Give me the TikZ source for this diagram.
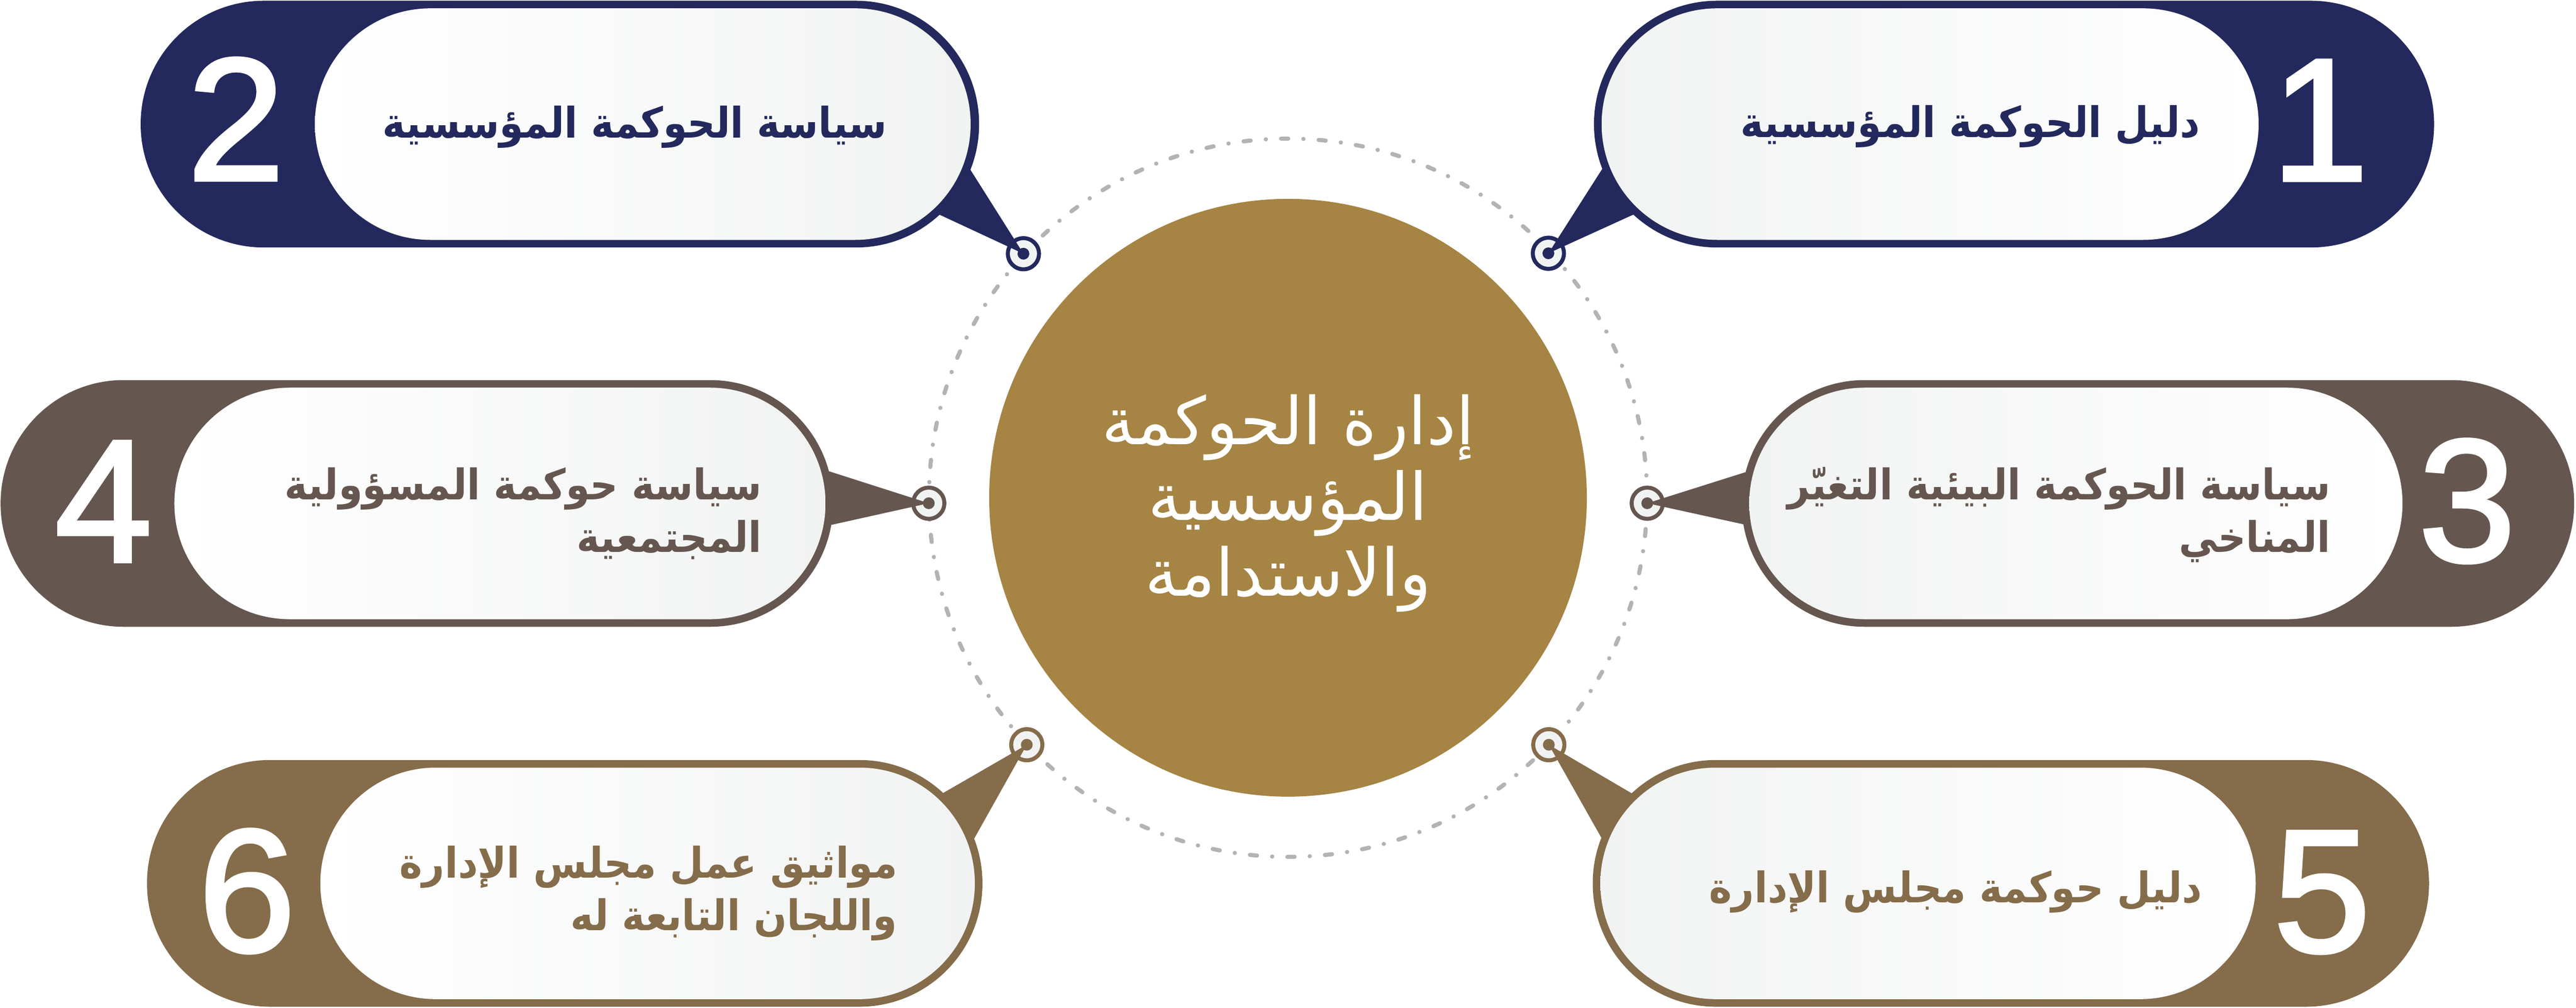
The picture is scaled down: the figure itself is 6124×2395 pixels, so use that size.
\documentclass[tikz,border=0pt]{standalone}
\usepackage{fontspec}
\usetikzlibrary{calc}
\newfontfamily\arabicfont[Script=Arabic]{DejaVu Sans}
\newfontfamily\arabicboldfont[Script=Arabic,FakeStretch=0.92]{DejaVu Sans Bold}
\newfontfamily\numfont[FakeBold=2]{Liberation Sans}
\TeXXeTstate=1
\definecolor{navy}{HTML}{23295C}
\definecolor{taupe}{HTML}{655750}
\definecolor{bronze}{HTML}{856C4A}
\definecolor{gold}{HTML}{A58444}
\definecolor{pale}{HTML}{F1F3F2}
\definecolor{dotgray}{HTML}{B3B3B3}
\tikzset{
  outerpill/.style={rectangle, rounded corners=2.925cm, minimum height=5.86cm, inner sep=0pt, outer sep=0pt},
  innerpill/.style={rectangle, rounded corners=2.745cm, minimum height=5.5cm, inner sep=0pt, outer sep=0pt},
  ring/.style={circle, minimum size=0.74cm, inner sep=0pt, line width=2.7pt, fill=pale},
  pindot/.style={circle, minimum size=0.28cm, inner sep=0pt},
  boxtext/.style={font=\arabicboldfont\fontsize{28.5}{35.3}\selectfont, inner sep=0pt, align=right, anchor=base east},
  hubtext/.style={font=\arabicfont\fontsize{44.5}{51.2}\selectfont, inner sep=0pt, align=center, text=white},
  numtext/.style={font=\numfont\fontsize{118}{118}\selectfont, text=white, inner sep=0pt},
  dotring/.style={draw=dotgray, line width=2.8pt, line cap=round, dash pattern=on 4.84pt off 10.235pt on 0.1pt off 10.235pt},
}
\begin{document}
\begin{tikzpicture}[x=0.01cm, y=-0.01cm]
\useasboundingbox (0,0) rectangle (6124,2395);
\fill[white] (0,0) rectangle (6124,2395);

% hub
\node[circle, fill=gold, minimum size=14.2cm, inner sep=0pt] (hub) at (3062,1183) {};
\draw[dotring] (hub.center) circle[radius=8.53cm];
\node[hubtext, anchor=base] (ht) at (3062,1417) {\beginR إدارة الحوكمة\endR\\\beginR المؤسسية\endR\\\beginR والاستدامة\endR};

% ---------- box 1 (top right, navy)
\node[ring, draw=navy] (c1) at (3681,602) {};
\coordinate (p1a) at (3808,403);
\coordinate (p1b) at (3883,510);
\fill[navy] (c1.center) -- ($(c1.center)!1.25!(p1a)$) -- ($(c1.center)!1.25!(p1b)$) -- cycle;
\node[outerpill, fill=navy, minimum width=19.96cm] (o1) at (4788,295) {};
\node[innerpill, shade, left color=pale, right color=white, minimum width=15.61cm] (b1) at (4588.5,295) {};
\node[pindot, fill=navy] (d1) at (c1.center) {};
\node[boxtext, text=navy] (t1) at (5231,326) {\beginR دليل الحوكمة المؤسسية\endR};
\node[numtext] (n1) at (5515,286) {1};

% ---------- box 2 (top left, navy)
\node[ring, draw=navy] (c2) at (2433,603) {};
\coordinate (p2a) at (2306,402);
\coordinate (p2b) at (2233,510);
\fill[navy] (c2.center) -- ($(c2.center)!1.25!(p2a)$) -- ($(c2.center)!1.25!(p2b)$) -- cycle;
\node[outerpill, fill=navy, minimum width=19.92cm] (o2) at (1331,295) {};
\node[innerpill, shade, left color=white, right color=pale, minimum width=15.58cm] (b2) at (1528,295) {};
\node[pindot, fill=navy] (d2) at (c2.center) {};
\node[boxtext, text=navy] (t2) at (2110,328) {\beginR سياسة الحوكمة المؤسسية\endR};
\node[numtext] (n2) at (561,283) {2};

% ---------- box 3 (middle right, taupe)
\node[ring, draw=taupe] (c3) at (3916,1196) {};
\coordinate (p3a) at (4144,1124);
\coordinate (p3b) at (4144,1246);
\fill[taupe] (c3.center) -- ($(c3.center)!1.25!(p3a)$) -- ($(c3.center)!1.25!(p3b)$) -- cycle;
\node[outerpill, fill=taupe, minimum width=19.78cm] (o3) at (5130,1196.5) {};
\node[innerpill, shade, left color=pale, right color=white, minimum width=15.52cm] (b3) at (4935,1196.5) {};
\node[pindot, fill=taupe] (d3) at (c3.center) {};
\node[boxtext, text=taupe] (t3) at (5541,1312) {\beginR سياسة الحوكمة البيئية التغيّر\endR\\\beginR المناخي\endR};
\node[numtext] (n3) at (5865,1191) {3};

% ---------- box 4 (middle left, taupe)
\node[ring, draw=taupe] (c4) at (2208,1196) {};
\coordinate (p4a) at (1980,1123);
\coordinate (p4b) at (1983,1246);
\fill[taupe] (c4.center) -- ($(c4.center)!1.25!(p4a)$) -- ($(c4.center)!1.25!(p4b)$) -- cycle;
\node[outerpill, fill=taupe, minimum width=19.78cm] (o4) at (991,1196.5) {};
\node[innerpill, shade, left color=white, right color=pale, minimum width=15.47cm] (b4) at (1188.5,1196.5) {};
\node[pindot, fill=taupe] (d4) at (c4.center) {};
\node[boxtext, text=taupe] (t4) at (1812,1312) {\beginR سياسة حوكمة المسؤولية\endR\\\beginR المجتمعية\endR};
\node[numtext] (n4) at (246,1192) {4};

% ---------- box 5 (bottom right, bronze)
\node[ring, draw=bronze] (c5) at (3682,1770) {};
\coordinate (p5a) at (3880,1886);
\coordinate (p5b) at (3808,1993);
\fill[bronze] (c5.center) -- ($(c5.center)!1.25!(p5a)$) -- ($(c5.center)!1.25!(p5b)$) -- cycle;
\node[outerpill, fill=bronze, minimum width=19.87cm] (o5) at (4780.5,2099.5) {};
\node[innerpill, shade, left color=pale, right color=white, minimum width=15.57cm] (b5) at (4583.5,2099.5) {};
\node[pindot, fill=bronze] (d5) at (c5.center) {};
\node[boxtext, text=bronze] (t5) at (5236,2145) {\beginR دليل حوكمة مجلس الإدارة\endR};
\node[numtext] (n5) at (5520,2121) {5};

% ---------- box 6 (bottom left, bronze)
\node[ring, draw=bronze] (c6) at (2441,1770) {};
\coordinate (p6a) at (2240,1886);
\coordinate (p6b) at (2316,1993);
\fill[bronze] (c6.center) -- ($(c6.center)!1.25!(p6a)$) -- ($(c6.center)!1.25!(p6b)$) -- cycle;
\node[outerpill, fill=bronze, minimum width=19.85cm] (o6) at (1342.5,2099.5) {};
\node[innerpill, shade, left color=white, right color=pale, minimum width=15.55cm] (b6) at (1539.5,2099.5) {};
\node[pindot, fill=bronze] (d6) at (c6.center) {};
\node[boxtext, text=bronze] (t6) at (2134,2211) {\beginR مواثيق عمل مجلس الإدارة\endR\\\beginR واللجان التابعة له\endR};
\node[numtext] (n6) at (587,2118) {6};
\end{tikzpicture}
\end{document}
